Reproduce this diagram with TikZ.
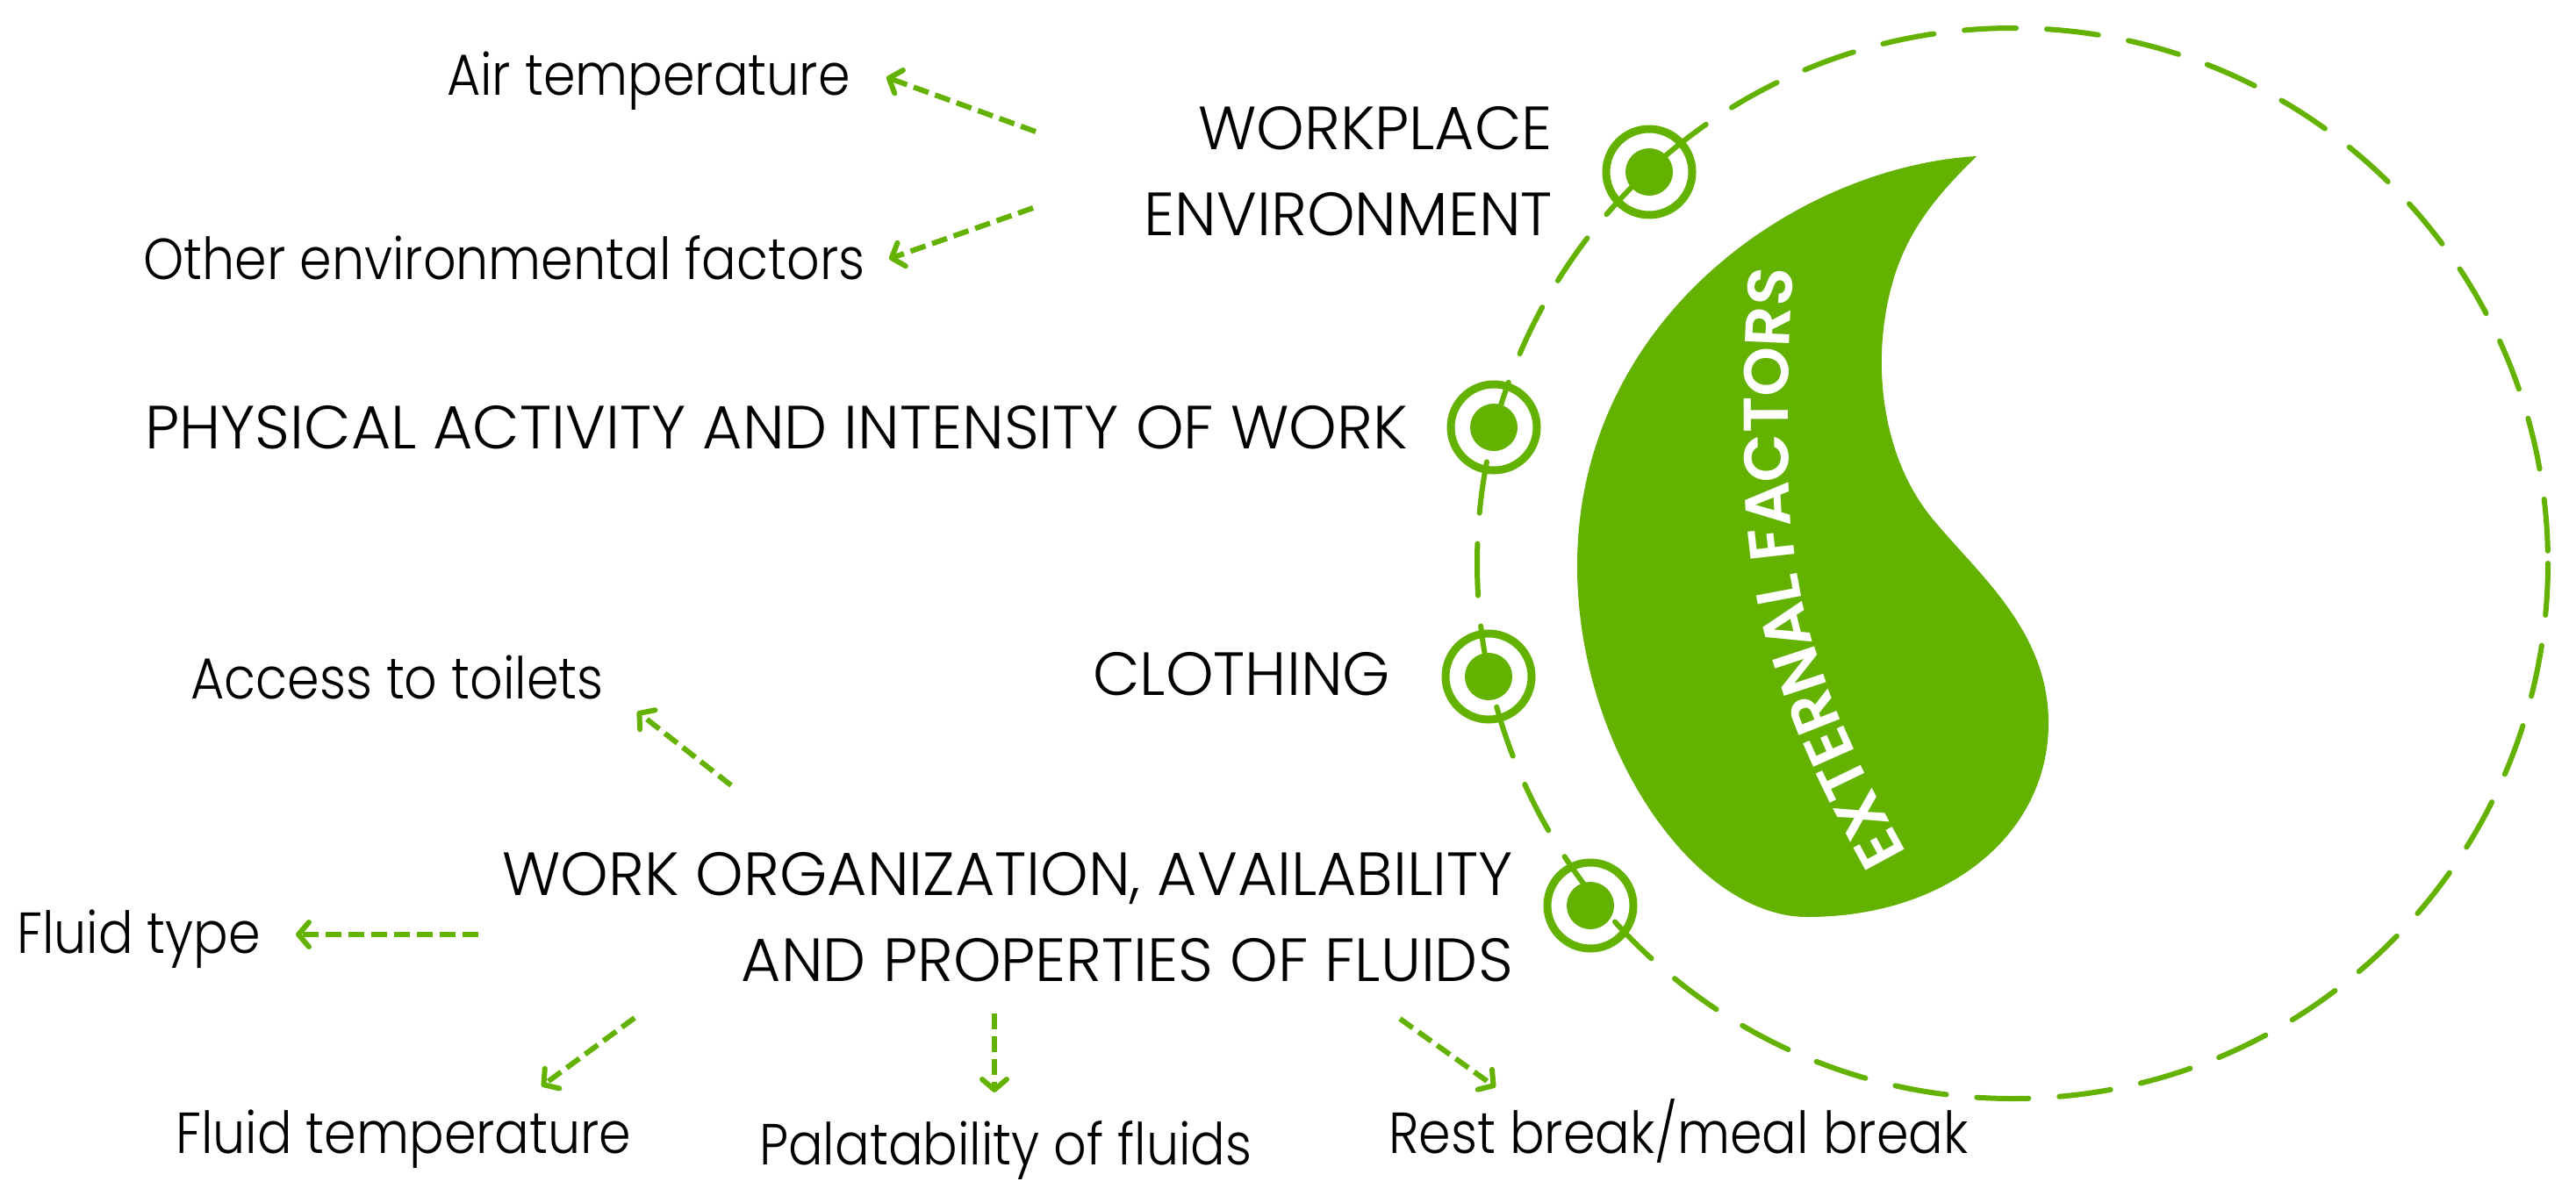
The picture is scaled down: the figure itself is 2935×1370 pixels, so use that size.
\documentclass[tikz,border=0pt]{standalone}
\usepackage{fontspec}
\setmainfont{Poppins Light}
\newfontfamily\lowfont{Poppins Light}[FakeStretch=0.89]
\newfontfamily\extfont{Poppins SemiBold}
\usetikzlibrary{arrows.meta,decorations.text,calc}
\definecolor{leaf}{RGB}{99,178,0}
\begin{document}
\begin{tikzpicture}[x=1pt,y=-1pt,
  caplbl/.style={font=\fontsize{69.5}{80}\selectfont, inner sep=0pt, text=black},
  lowlbl/.style={font=\lowfont\fontsize{66}{78}\selectfont, inner sep=0pt, text=black},
  darrow/.style={draw=leaf, line width=6pt, dash pattern=on 18pt off 8pt,
    -{Straight Barb[length=12pt,width=28pt,line width=6pt,round]}},
  ringmark/.style={draw=leaf, line width=9pt, circle, minimum size=98pt, inner sep=0pt},
  dotmark/.style={fill=leaf, circle, minimum size=54pt, inner sep=0pt},
]
\useasboundingbox[fill=white] (0,0) rectangle (2935,1370);

% drop
\fill[leaf] (2252,178) .. controls (2050,190) and (1800,360) .. (1797,640)
  .. controls (1795,850) and (1930,1045) .. (2059,1045)
  .. controls (2220,1045) and (2334,950) .. (2334,824)
  .. controls (2334,720) and (2255,655) .. (2205,595)
  .. controls (2140,520) and (2130,400) .. (2160,310)
  .. controls (2180,250) and (2220,210) .. cycle;

\path[decorate, decoration={text along path,
   text={|\extfont\fontsize{72}{72}\selectfont|EXTERNAL FACTORS},
   text align={fit to path}, text color=white, raise=-26pt}]
   (2150,985) .. controls (2070,840) and (2018,720) .. (2013,560)
   .. controls (2010,450) and (2012,370) .. (2018,305);

% dashed circle
\coordinate (C) at (2293,642);
\draw[leaf, line width=6pt, dash pattern=on 59pt off 35pt, line cap=round] (C) circle[radius=610];

% markers
\node[ringmark] (m1) at (1879,196) {};
\node[dotmark] (d1) at (m1) {};
\node[ringmark] (m2) at (1702,487) {};
\node[dotmark] (d2) at (m2) {};
\node[ringmark] (m3) at (1696,771) {};
\node[dotmark] (d3) at (m3) {};
\node[ringmark] (m4) at (1812,1032) {};
\node[dotmark] (d4) at (m4) {};

% texts
\node[lowlbl, anchor=base west] (air) at (509,109) {Air temperature};
\node[caplbl, anchor=base east] (wp1) at (1769,170) {WORKPLACE};
\node[caplbl, anchor=base east] (wp2) at (1769,268) {ENVIRONMENT};
\node[lowlbl, anchor=base west] (oth) at (163,318) {Other environmental factors};
\node[caplbl, anchor=base west] (phy) at (165,511) {PHYSICAL ACTIVITY AND INTENSITY OF WORK};
\node[caplbl, anchor=base west] (clo) at (1245,792) {CLOTHING};
\node[lowlbl, anchor=base west] (acc) at (217,796) {Access to toilets};
\node[caplbl, anchor=base east] (wo1) at (1724,1020) {WORK ORGANIZATION, AVAILABILITY};
\node[caplbl, anchor=base east] (wo2) at (1724,1118) {AND PROPERTIES OF FLUIDS};
\node[lowlbl, anchor=base west] (ftype) at (19,1086) {Fluid type};
\node[lowlbl, anchor=base west] (ftemp) at (200,1314) {Fluid temperature};
\node[lowlbl, anchor=base west] (pal) at (865,1327) {Palatability of fluids};
\node[lowlbl, anchor=base west] (rest) at (1582,1314) {Rest break/meal break};

% arrow end points
\coordinate (a1s) at (1180,150);  \coordinate (a1e) at (1010,88);
\coordinate (a2s) at (1177,237);  \coordinate (a2e) at (1013,295);
\coordinate (a3s) at (833,895);   \coordinate (a3e) at (726,811);
\coordinate (a4s) at (545,1065);  \coordinate (a4e) at (337,1065);
\coordinate (a5s) at (723,1160);  \coordinate (a5e) at (617,1238);
\coordinate (a6s) at (1133,1155); \coordinate (a6e) at (1133,1245);
\coordinate (a7s) at (1595,1161); \coordinate (a7e) at (1704,1239);

\draw[darrow] (a1s) -- (a1e);
\draw[darrow] (a2s) -- (a2e);
\draw[darrow] (a3s) -- (a3e);
\draw[darrow] (a4s) -- (a4e);
\draw[darrow] (a5s) -- (a5e);
\draw[darrow] (a6s) -- (a6e);
\draw[darrow] (a7s) -- (a7e);
\end{tikzpicture}
\end{document}
